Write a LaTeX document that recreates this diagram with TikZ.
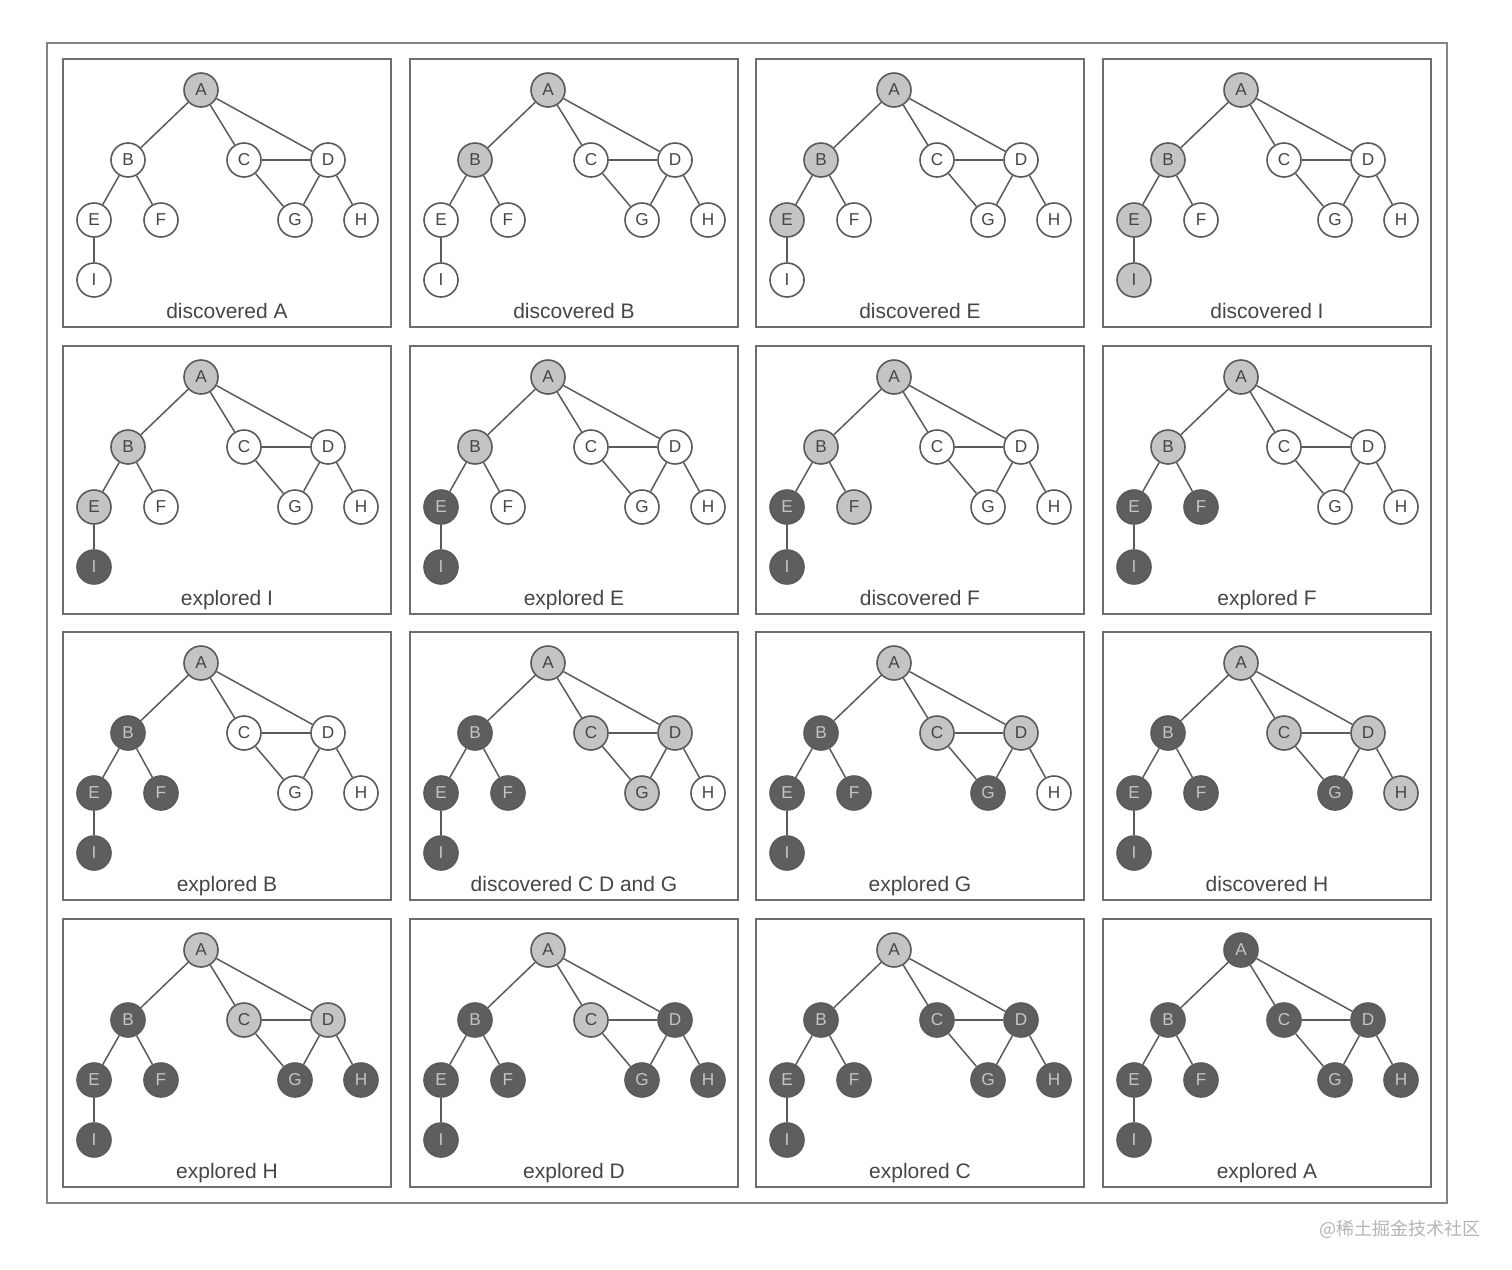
\documentclass[tikz,border=0pt]{standalone}
\usepackage{fontspec}
\setmainfont{Liberation Sans}
\newfontfamily\cjkfont{Noto Sans CJK SC}
\definecolor{edgecol}{HTML}{5A5A5A}
\definecolor{framecol}{HTML}{6E6E6E}
\definecolor{txtcol}{HTML}{464646}
\definecolor{seencol}{HTML}{C4C4C4}
\definecolor{donecol}{HTML}{5E5E5E}
\definecolor{wmcol}{HTML}{B4B4B4}

\tikzset{every picture/.style={line width=0.75pt}}
\tikzset{
  vtx/.style={circle,draw=edgecol,line width=0.8pt,fill=white,minimum size=17pt,inner sep=0pt,
    text=txtcol,font=\fontsize{8.6}{8.6}\selectfont},
  seen/.style={fill=seencol},
  done/.style={fill=donecol,text=seencol},
  nA/.style={},nB/.style={},nC/.style={},nD/.style={},nE/.style={},
  nF/.style={},nG/.style={},nH/.style={},nI/.style={},
  edge/.style={draw=edgecol,line width=0.75pt},
  panelbox/.style={draw=framecol,line width=1pt},
  outerbox/.style={draw=framecol!85,line width=1pt},
  caption/.style={anchor=base,text=txtcol,font=\fontsize{10.5}{12}\selectfont},
  watermarktext/.style={text=wmcol,font=\cjkfont\fontsize{9}{10}\selectfont}
}

% one step of the search: #1 node states, #2 prefix, #3/#4 corner, #5 caption
\newcommand\bfspanel[5][]{%
  \begin{scope}[shift={(#3,#4)},name prefix=#2-,#1]
    \draw[panelbox] (0,0) rectangle (328,268);
    \node[vtx,nA] (A) at (138,31) {A};
    \node[vtx,nB] (B) at (65,101) {B};
    \node[vtx,nC] (C) at (181,101) {C};
    \node[vtx,nD] (D) at (265,101) {D};
    \node[vtx,nE] (E) at (31,161) {E};
    \node[vtx,nF] (F) at (98,161) {F};
    \node[vtx,nG] (G) at (232,161) {G};
    \node[vtx,nH] (H) at (298,161) {H};
    \node[vtx,nI] (I) at (31,221) {I};
    \draw[edge] (A) -- (B);
    \draw[edge] (A) -- (C);
    \draw[edge] (A) -- (D);
    \draw[edge] (B) -- (E);
    \draw[edge] (B) -- (F);
    \draw[edge] (C) -- (D);
    \draw[edge] (C) -- (G);
    \draw[edge] (D) -- (G);
    \draw[edge] (D) -- (H);
    \draw[edge] (E) -- (I);
    \node[caption] (cap) at (164,259.5) {#5};
  \end{scope}}

\begin{document}
\begin{tikzpicture}[x=0.5pt,y=0.5pt,yscale=-1,xscale=1]
\useasboundingbox (0,0) rectangle (1512,1270);

% outer frame
\draw[outerbox] (47,43) rectangle (1447,1203);

% row 1
\bfspanel[nA/.style=seen]{p1}{63}{59}{discovered A}
\bfspanel[nA/.style=seen,nB/.style=seen]{p2}{410}{59}{discovered B}
\bfspanel[nA/.style=seen,nB/.style=seen,nE/.style=seen]{p3}{756}{59}{discovered E}
\bfspanel[nA/.style=seen,nB/.style=seen,nE/.style=seen,nI/.style=seen]{p4}{1103}{59}{discovered I}

% row 2
\bfspanel[nA/.style=seen,nB/.style=seen,nE/.style=seen,nI/.style=done]{p5}{63}{346}{explored I}
\bfspanel[nA/.style=seen,nB/.style=seen,nE/.style=done,nI/.style=done]{p6}{410}{346}{explored E}
\bfspanel[nA/.style=seen,nB/.style=seen,nF/.style=seen,nE/.style=done,nI/.style=done]{p7}{756}{346}{discovered F}
\bfspanel[nA/.style=seen,nB/.style=seen,nE/.style=done,nF/.style=done,nI/.style=done]{p8}{1103}{346}{explored F}

% row 3
\bfspanel[nA/.style=seen,nB/.style=done,nE/.style=done,nF/.style=done,nI/.style=done]{p9}{63}{632}{explored B}
\bfspanel[nA/.style=seen,nC/.style=seen,nD/.style=seen,nG/.style=seen,
  nB/.style=done,nE/.style=done,nF/.style=done,nI/.style=done]{p10}{410}{632}{discovered C D and G}
\bfspanel[nA/.style=seen,nC/.style=seen,nD/.style=seen,nG/.style=done,
  nB/.style=done,nE/.style=done,nF/.style=done,nI/.style=done]{p11}{756}{632}{explored G}
\bfspanel[nA/.style=seen,nC/.style=seen,nD/.style=seen,nH/.style=seen,nG/.style=done,
  nB/.style=done,nE/.style=done,nF/.style=done,nI/.style=done]{p12}{1103}{632}{discovered H}

% row 4
\bfspanel[nA/.style=seen,nC/.style=seen,nD/.style=seen,nH/.style=done,nG/.style=done,
  nB/.style=done,nE/.style=done,nF/.style=done,nI/.style=done]{p13}{63}{919}{explored H}
\bfspanel[nA/.style=seen,nC/.style=seen,nD/.style=done,nH/.style=done,nG/.style=done,
  nB/.style=done,nE/.style=done,nF/.style=done,nI/.style=done]{p14}{410}{919}{explored D}
\bfspanel[nA/.style=seen,nC/.style=done,nD/.style=done,nH/.style=done,nG/.style=done,
  nB/.style=done,nE/.style=done,nF/.style=done,nI/.style=done]{p15}{756}{919}{explored C}
\bfspanel[nA/.style=done,nC/.style=done,nD/.style=done,nH/.style=done,nG/.style=done,
  nB/.style=done,nE/.style=done,nF/.style=done,nI/.style=done]{p16}{1103}{919}{explored A}

% watermark
\node[watermarktext] (wm) at (1400,1229) {@稀土掘金技术社区};

\end{tikzpicture}
\end{document}
